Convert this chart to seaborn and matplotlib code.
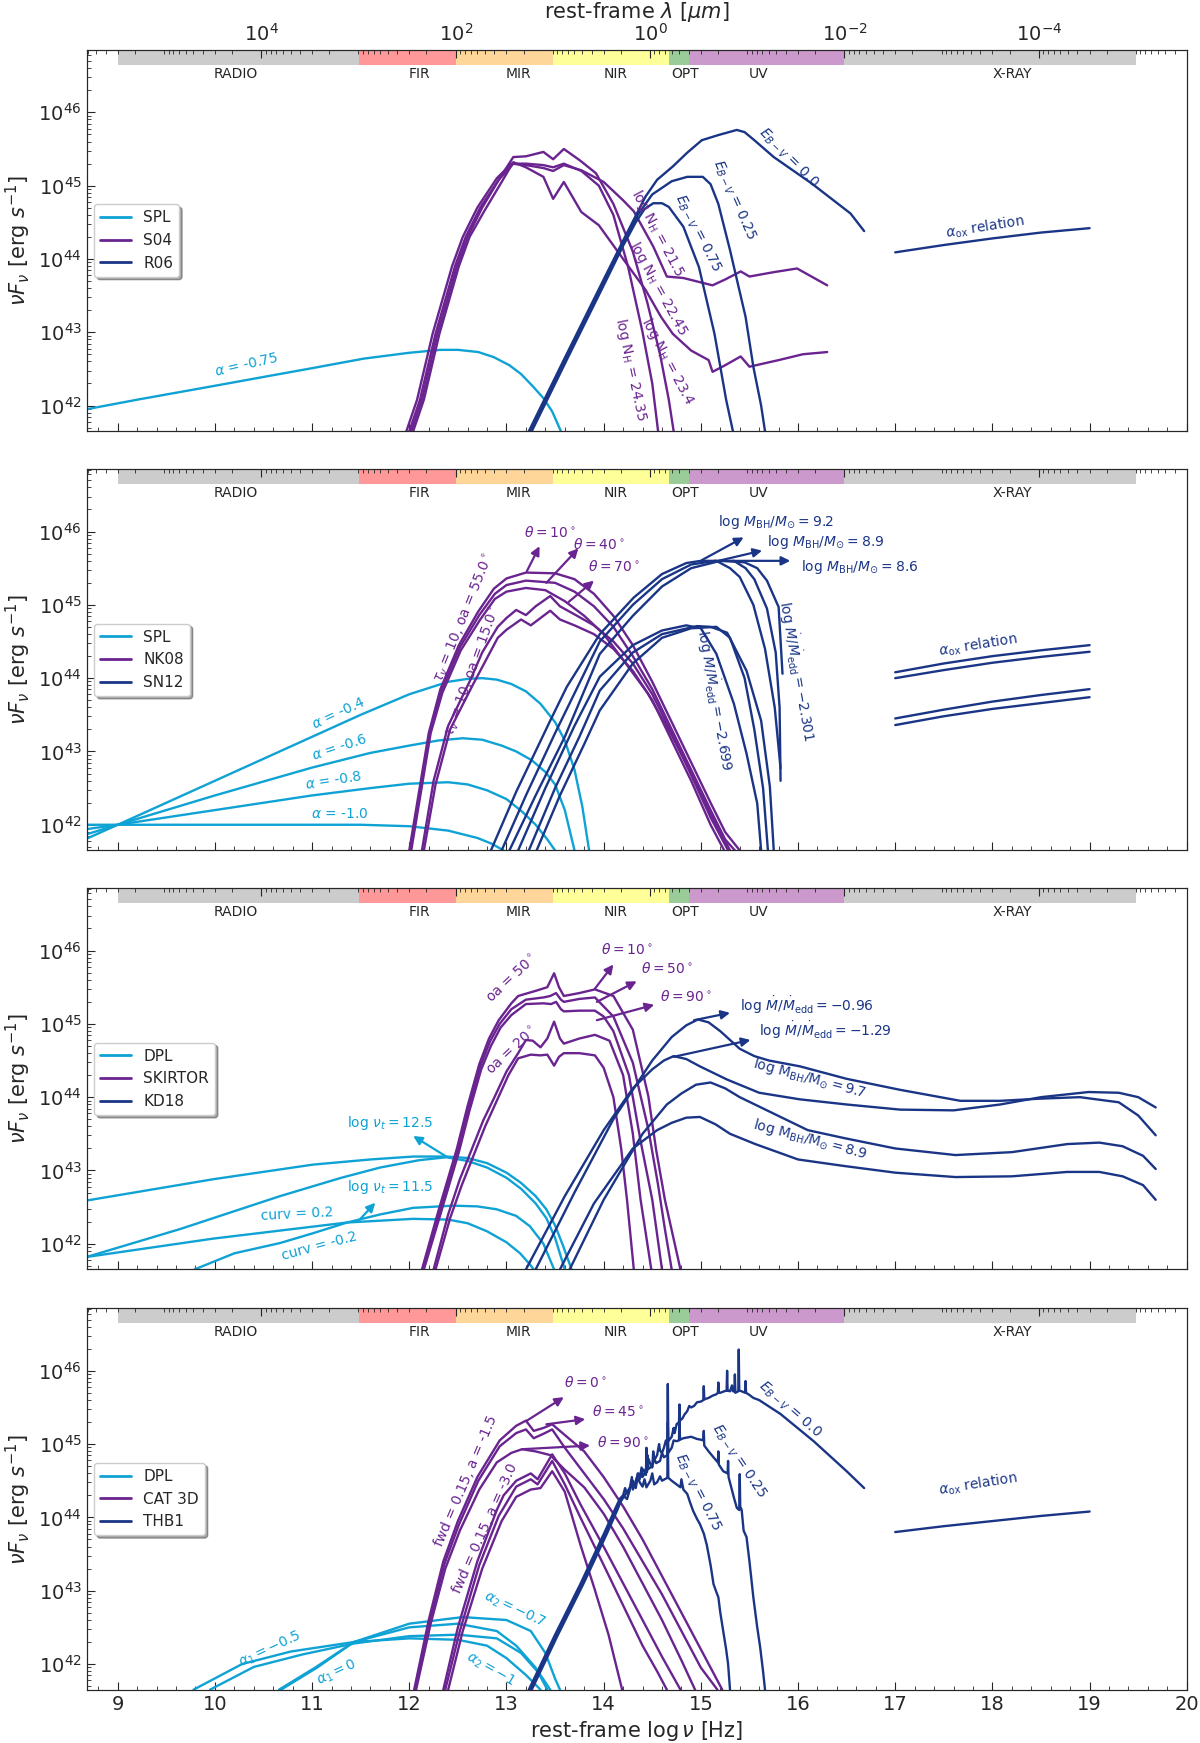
import numpy as np
import pandas as pd
import matplotlib
matplotlib.use('Agg')
import matplotlib.pyplot as plt
import seaborn as sns
from matplotlib.lines import Line2D
from matplotlib.ticker import (MultipleLocator, FixedLocator, FixedFormatter,
                               LogLocator, NullFormatter)

sns.set_style('ticks')
plt.rcParams['font.family'] = ['DejaVu Sans']

CYAN = '#0fa2d4'
PURPLE = '#6a2490'
NAVY = '#1a3586'
LOGC = 14.4768          # log10(c) in micron/s
XLIM = (8.68, 20.0)
YLIM = (41.65, 46.85)   # log of nuFnu

# spectral regions (log nu edges)
band_edges = [9.0, 11.48, 12.477, 13.477, 14.67, 14.875, 16.477, 19.477]
band_names = ['RADIO', 'FIR', 'MIR', 'NIR', 'OPT', 'UV', 'X-RAY']
band_label_x = [10.21, 12.1, 13.12, 14.12, 14.84, 15.59, 18.2]
band_colors = ['#cccccc', '#ff9999', '#ffd699', '#ffff99', '#99cc99', '#cc99cc', '#cccccc']

# ---------------- panel 1 : SPL / S04 / R06 ----------------
spl_075 = [(8.68, 41.95), (9.2, 42.08), (10.0, 42.27), (10.54, 42.4), (11.0, 42.51), (11.53, 42.64),
           (12.0, 42.72), (12.32, 42.76), (12.5, 42.76), (12.71, 42.73), (12.87, 42.66), (13.03, 42.55),
           (13.15, 42.43), (13.28, 42.25), (13.38, 42.1), (13.47, 41.92), (13.56, 41.65)]
s04_nh215 = [(11.97, 41.65), (12.08, 42.08), (12.24, 42.98), (12.44, 43.9), (12.55, 44.3), (12.7, 44.7),
             (12.9, 45.1), (13.05, 45.3), (13.2, 45.28), (13.38, 45.24), (13.48, 45.2), (13.59, 45.28),
             (13.77, 45.21), (14.0, 45.05), (14.2, 44.8), (14.31, 44.65), (14.51, 44.17), (14.65, 43.76),
             (14.82, 43.74), (15.0, 43.68), (15.12, 43.64), (15.25, 43.72), (15.41, 43.83), (15.5, 43.76),
             (15.75, 43.82), (15.99, 43.87), (16.3, 43.64)]
s04_nh2245 = [(12.04, 41.65), (12.15, 42.08), (12.31, 42.98), (12.51, 43.9), (12.62, 44.3), (12.77, 44.65),
              (12.95, 45.05), (13.07, 45.32), (13.2, 45.25), (13.38, 45.12), (13.48, 44.82), (13.59, 45.05),
              (13.77, 44.64), (13.95, 44.46), (14.2, 44.0), (14.43, 43.58), (14.59, 43.21), (14.71, 42.98),
              (14.9, 42.75), (15.08, 42.62), (15.12, 42.46), (15.25, 42.55), (15.41, 42.67), (15.5, 42.53),
              (15.8, 42.62), (16.05, 42.7), (16.3, 42.73)]
s04_nh234 = [(12.02, 41.65), (12.13, 42.08), (12.29, 42.98), (12.49, 43.9), (12.6, 44.3), (12.75, 44.7),
             (12.93, 45.1), (13.07, 45.39), (13.2, 45.4), (13.38, 45.46), (13.48, 45.36), (13.59, 45.5),
             (13.75, 45.35), (13.92, 45.17), (14.1, 44.75), (14.3, 44.1), (14.45, 43.4), (14.58, 42.7),
             (14.67, 42.08), (14.72, 41.65)]
s04_nh2435 = [(12.0, 41.65), (12.11, 42.08), (12.27, 42.98), (12.47, 43.9), (12.58, 44.3), (12.73, 44.7),
              (12.92, 45.08), (13.07, 45.3), (13.2, 45.3), (13.38, 45.28), (13.48, 45.25), (13.59, 45.3),
              (13.77, 45.2), (13.95, 45.0), (14.1, 44.6), (14.25, 43.9), (14.4, 43.0), (14.5, 42.3),
              (14.56, 41.65)]
r06_e00 = [(13.23, 41.65), (13.6, 42.65), (14.0, 43.72), (14.2, 44.25), (14.43, 44.85), (14.55, 45.08),
           (14.71, 45.26), (14.86, 45.45), (15.01, 45.62), (15.18, 45.69), (15.37, 45.76), (15.45, 45.73),
           (15.55, 45.62), (15.75, 45.39), (16.14, 45.03), (16.54, 44.62), (16.68, 44.38)]
r06_e025 = [(13.245, 41.65), (13.615, 42.65), (14.015, 43.72), (14.215, 44.25), (14.35, 44.6), (14.5, 44.88),
            (14.7, 45.06), (14.86, 45.12), (15.02, 45.12), (15.1, 45.02), (15.18, 44.75), (15.3, 44.12),
            (15.46, 43.21), (15.54, 42.53), (15.62, 42.0), (15.66, 41.65)]
r06_e075 = [(13.26, 41.65), (13.63, 42.65), (14.03, 43.72), (14.2, 44.18), (14.33, 44.5), (14.42, 44.68),
            (14.51, 44.76), (14.6, 44.76), (14.67, 44.71), (14.82, 44.44), (14.98, 43.89), (15.14, 42.98),
            (15.26, 42.08), (15.33, 41.65)]
aox_1 = [(17.0, 44.09), (17.5, 44.19), (18.0, 44.28), (18.5, 44.36), (19.0, 44.42)]

# ---------------- panel 2 : SPL / NK08 / SN12 ----------------
spl_04 = [(8.68, 41.81), (9.0, 42.0), (10.0, 42.6), (11.0, 43.2), (11.5, 43.5), (12.0, 43.78), (12.4, 43.95),
          (12.6, 43.99), (12.75, 44.0), (12.9, 43.98), (13.05, 43.92), (13.2, 43.82), (13.35, 43.65),
          (13.5, 43.4), (13.6, 43.15), (13.7, 42.75), (13.78, 42.25), (13.85, 41.65)]
spl_06 = [(8.68, 41.87), (9.0, 42.0), (10.0, 42.4), (11.0, 42.78), (11.6, 42.98), (12.0, 43.08), (12.3, 43.15),
          (12.55, 43.18), (12.75, 43.16), (12.95, 43.08), (13.1, 43.0), (13.26, 42.88), (13.4, 42.72),
          (13.5, 42.55), (13.6, 42.2), (13.7, 41.65)]
spl_08 = [(8.68, 41.94), (9.0, 42.0), (10.0, 42.2), (11.0, 42.4), (11.6, 42.5), (12.0, 42.56), (12.4, 42.58),
          (12.6, 42.55), (12.8, 42.47), (13.0, 42.35), (13.16, 42.18), (13.3, 42.0), (13.42, 41.8), (13.5, 41.65)]
spl_10 = [(8.68, 42.0), (9.0, 42.0), (10.0, 42.0), (11.0, 42.0), (11.5, 42.0), (12.0, 41.98), (12.4, 41.92),
          (12.7, 41.82), (12.85, 41.74), (12.97, 41.65)]
nk_oa55_t10 = [(12.0, 41.65), (12.1, 42.45), (12.2, 43.25), (12.32, 43.85), (12.51, 44.45), (12.71, 44.91),
               (12.87, 45.22), (13.0, 45.36), (13.2, 45.44), (13.5, 45.43), (13.7, 45.35), (13.9, 45.15),
               (14.1, 44.85), (14.3, 44.45), (14.5, 43.95), (14.7, 43.4), (14.9, 42.85), (15.1, 42.3),
               (15.25, 41.9), (15.4, 41.65)]
nk_oa55_t40 = [(12.01, 41.65), (12.11, 42.45), (12.21, 43.25), (12.33, 43.83), (12.52, 44.42), (12.72, 44.86),
               (12.88, 45.15), (13.0, 45.27), (13.2, 45.33), (13.5, 45.3), (13.7, 45.18), (13.9, 44.98),
               (14.1, 44.7), (14.3, 44.3), (14.5, 43.85), (14.7, 43.3), (14.9, 42.75), (15.1, 42.2),
               (15.25, 41.8), (15.35, 41.65)]
nk_oa55_t70 = [(12.02, 41.65), (12.12, 42.45), (12.22, 43.25), (12.34, 43.8), (12.53, 44.38), (12.73, 44.8),
               (12.88, 45.08), (13.0, 45.18), (13.2, 45.23), (13.4, 45.2), (13.6, 45.05), (13.8, 44.85),
               (14.0, 44.6), (14.2, 44.25), (14.45, 43.8), (14.7, 43.22), (14.9, 42.7), (15.1, 42.15),
               (15.3, 41.65)]
nk_oa15_a = [(12.13, 41.65), (12.25, 42.6), (12.4, 43.35), (12.63, 43.98), (12.75, 44.35), (12.91, 44.7),
             (13.0, 44.82), (13.1, 44.93), (13.2, 44.86), (13.3, 44.98), (13.45, 45.12), (13.55, 44.98),
             (13.7, 44.87), (13.9, 44.72), (14.1, 44.5), (14.3, 44.2), (14.5, 43.78), (14.7, 43.25),
             (14.9, 42.68), (15.1, 42.1), (15.28, 41.65)]
nk_oa15_b = [(12.15, 41.65), (12.27, 42.55), (12.42, 43.3), (12.65, 43.9), (12.77, 44.2), (12.91, 44.55),
             (13.0, 44.66), (13.15, 44.8), (13.25, 44.72), (13.45, 44.92), (13.55, 44.8), (13.7, 44.72),
             (13.9, 44.6), (14.1, 44.4), (14.3, 44.1), (14.5, 43.7), (14.7, 43.15), (14.9, 42.6),
             (15.1, 42.0), (15.24, 41.65)]
sn_m92 = [(12.84, 41.65), (13.1, 42.45), (13.45, 43.42), (13.62, 43.88), (13.96, 44.6), (14.31, 45.1),
          (14.6, 45.42), (14.85, 45.57), (15.0, 45.6), (15.16, 45.6), (15.3, 45.5), (15.4, 45.38),
          (15.54, 45.0), (15.66, 44.4), (15.76, 43.6), (15.82, 42.77)]
sn_m89 = [(12.95, 41.65), (13.2, 42.4), (13.5, 43.25), (13.96, 44.5), (14.3, 45.0), (14.6, 45.35),
          (14.9, 45.55), (15.15, 45.6), (15.34, 45.6), (15.46, 45.5), (15.55, 45.35), (15.68, 44.95),
          (15.77, 44.35), (15.81, 43.6), (15.82, 42.6)]
sn_m86 = [(13.03, 41.65), (13.3, 42.4), (13.6, 43.2), (13.96, 44.33), (14.3, 44.85), (14.6, 45.25),
          (14.9, 45.5), (15.2, 45.6), (15.45, 45.58), (15.58, 45.5), (15.68, 45.33), (15.8, 44.97),
          (15.84, 44.06)]
sn_low1 = [(13.12, 41.65), (13.4, 42.5), (13.7, 43.35), (13.96, 44.02), (14.3, 44.45), (14.6, 44.65),
           (14.85, 44.72), (15.0, 44.68), (15.16, 44.33), (15.34, 43.65), (15.47, 42.97), (15.58, 42.29),
           (15.62, 41.65)]
sn_low2 = [(13.23, 41.65), (13.5, 42.5), (13.75, 43.2), (13.96, 43.83), (14.3, 44.35), (14.6, 44.6),
           (14.96, 44.71), (15.1, 44.7), (15.27, 44.62), (15.47, 44.1), (15.62, 43.42), (15.71, 42.52),
           (15.75, 41.65)]
sn_low3 = [(13.31, 41.65), (13.55, 42.4), (13.8, 43.1), (13.96, 43.56), (14.3, 44.2), (14.6, 44.55),
           (14.9, 44.68), (15.16, 44.7), (15.3, 44.55), (15.45, 44.0), (15.55, 43.3), (15.64, 42.5),
           (15.69, 41.65)]
aox_2a = [(17.0, 44.08), (17.5, 44.2), (18.0, 44.3), (18.5, 44.38), (19.0, 44.45)]
aox_2b = [(17.0, 44.0), (17.5, 44.11), (18.0, 44.21), (18.5, 44.29), (19.0, 44.36)]
aox_2c = [(17.0, 43.45), (17.5, 43.57), (18.0, 43.68), (18.5, 43.77), (19.0, 43.85)]
aox_2d = [(17.0, 43.36), (17.5, 43.48), (18.0, 43.58), (18.5, 43.66), (19.0, 43.74)]

# ---------------- panel 3 : DPL / SKIRTOR / KD18 ----------------
dpl_nt125_a = [(8.68, 42.59), (9.98, 42.88), (11.01, 43.08), (11.6, 43.15), (12.04, 43.19), (12.38, 43.19),
               (12.6, 43.17), (12.8, 43.1), (13.0, 42.97), (13.15, 42.83), (13.3, 42.65), (13.41, 42.47),
               (13.5, 42.25), (13.58, 41.98), (13.67, 41.65)]
dpl_nt125_b = [(8.68, 41.82), (9.64, 42.2), (10.67, 42.65), (11.3, 42.9), (11.7, 43.04), (12.1, 43.14),
               (12.38, 43.18), (12.6, 43.13), (12.8, 43.04), (13.0, 42.9), (13.15, 42.75), (13.3, 42.55),
               (13.41, 42.35), (13.5, 42.08), (13.6, 41.65)]
dpl_nt115_a = [(8.68, 41.82), (9.98, 42.07), (11.36, 42.29), (12.04, 42.34), (12.4, 42.33), (12.6, 42.28),
               (12.8, 42.17), (13.0, 42.02), (13.14, 41.87), (13.24, 41.72), (13.28, 41.65)]
dpl_nt115_b = [(9.79, 41.65), (10.2, 41.87), (10.67, 42.01), (11.0, 42.14), (11.36, 42.29), (11.7, 42.4),
               (12.04, 42.49), (12.45, 42.52), (12.7, 42.51), (12.9, 42.47), (13.1, 42.38), (13.24, 42.24),
               (13.38, 42.0), (13.49, 41.65)]
sk_oa50_t10 = [(12.13, 41.65), (12.3, 42.45), (12.49, 43.3), (12.6, 43.88), (12.72, 44.45), (12.82, 44.8),
               (12.92, 45.05), (13.05, 45.28), (13.12, 45.38), (13.3, 45.45), (13.42, 45.5), (13.49, 45.69),
               (13.54, 45.5), (13.59, 45.38), (13.75, 45.42), (13.91, 45.47), (14.1, 45.38), (14.3, 44.92),
               (14.46, 44.01), (14.54, 43.28), (14.63, 42.6), (14.79, 41.65)]
sk_oa50_t50 = [(12.14, 41.65), (12.31, 42.43), (12.5, 43.28), (12.61, 43.85), (12.73, 44.42), (12.83, 44.76),
               (12.93, 45.0), (13.05, 45.2), (13.2, 45.33), (13.38, 45.36), (13.45, 45.38), (13.51, 45.42),
               (13.56, 45.33), (13.59, 45.3), (13.75, 45.34), (13.91, 45.36), (14.1, 45.1), (14.3, 44.47),
               (14.46, 43.56), (14.56, 42.8), (14.63, 42.2), (14.7, 41.65)]
sk_oa50_t90 = [(12.15, 41.65), (12.32, 42.4), (12.51, 43.25), (12.62, 43.82), (12.74, 44.38), (12.84, 44.7),
               (12.94, 44.95), (13.05, 45.12), (13.2, 45.27), (13.38, 45.28), (13.46, 45.27), (13.51, 45.3),
               (13.56, 45.2), (13.59, 45.17), (13.75, 45.18), (13.91, 45.18), (14.0, 45.1), (14.1, 44.9),
               (14.26, 44.3), (14.38, 43.4), (14.5, 42.6), (14.6, 41.65)]
sk_oa20_a = [(12.25, 41.65), (12.4, 42.4), (12.52, 42.88), (12.64, 43.28), (12.76, 43.68), (12.88, 44.01),
             (13.0, 44.35), (13.12, 44.6), (13.2, 44.78), (13.27, 44.77), (13.35, 44.68), (13.42, 44.8),
             (13.49, 45.03), (13.55, 44.8), (13.59, 44.73), (13.75, 44.8), (13.91, 44.85), (14.06, 44.77),
             (14.2, 44.3), (14.3, 43.5), (14.38, 42.6), (14.49, 41.65)]
sk_oa20_b = [(12.27, 41.65), (12.42, 42.35), (12.54, 42.8), (12.66, 43.2), (12.78, 43.6), (12.9, 43.95),
             (13.02, 44.3), (13.12, 44.53), (13.25, 44.58), (13.35, 44.57), (13.42, 44.58), (13.49, 44.43),
             (13.54, 44.55), (13.59, 44.6), (13.75, 44.6), (13.91, 44.57), (14.0, 44.4), (14.1, 44.0),
             (14.18, 43.3), (14.24, 42.6), (14.31, 41.65)]
kd_1 = [(13.3, 41.65), (13.7, 42.7), (14.1, 43.7), (14.5, 44.5), (14.7, 44.82), (14.85, 44.98), (14.97, 45.06),
        (15.08, 45.02), (15.2, 44.9), (15.3, 44.78), (15.4, 44.66), (15.55, 44.56), (15.7, 44.5),
        (16.02, 44.42), (16.5, 44.25), (17.05, 44.1), (17.67, 43.95), (18.08, 43.95), (18.5, 43.98),
        (18.9, 44.0), (19.3, 43.93), (19.5, 43.75), (19.68, 43.48)]
kd_2 = [(13.2, 41.65), (13.6, 42.65), (14.0, 43.55), (14.3, 44.12), (14.5, 44.38), (14.62, 44.5),
        (14.72, 44.56), (14.85, 44.52), (14.99, 44.42), (15.27, 44.24), (15.6, 44.06), (16.02, 43.97),
        (16.5, 43.9), (17.05, 43.83), (17.6, 43.82), (18.08, 43.9), (18.5, 44.0), (18.99, 44.07),
        (19.3, 44.06), (19.5, 44.0), (19.68, 43.86)]
kd_3 = [(13.65, 41.65), (14.0, 42.6), (14.4, 43.5), (14.65, 43.9), (14.8, 44.05), (14.95, 44.17), (15.1, 44.2),
        (15.25, 44.12), (15.4, 44.0), (15.68, 43.82), (16.1, 43.55), (16.48, 43.44), (17.0, 43.3),
        (17.62, 43.21), (18.2, 43.25), (18.77, 43.36), (19.1, 43.38), (19.34, 43.33), (19.55, 43.2),
        (19.68, 43.02)]
kd_4 = [(13.55, 41.65), (13.9, 42.55), (14.3, 43.3), (14.55, 43.55), (14.7, 43.65), (14.85, 43.72),
        (14.99, 43.73), (15.15, 43.63), (15.3, 43.5), (15.56, 43.36), (16.0, 43.15), (16.48, 43.06),
        (17.0, 42.97), (17.62, 42.91), (18.2, 42.92), (18.77, 42.98), (19.1, 42.98), (19.34, 42.92),
        (19.55, 42.8), (19.68, 42.6)]

# ---------------- panel 4 : DPL / CAT 3D / THB1 ----------------
dpl_a1m05_a2m1 = [(9.78, 41.65), (10.28, 42.0), (10.78, 42.17), (11.43, 42.3), (12.0, 42.35), (12.5, 42.33),
                  (12.8, 42.25), (13.0, 42.08), (13.2, 41.85), (13.35, 41.65)]
dpl_a1m05_a2m07 = [(9.95, 41.65), (10.4, 41.96), (10.9, 42.13), (11.43, 42.28), (12.0, 42.38), (12.5, 42.4),
                   (12.9, 42.35), (13.15, 42.15), (13.35, 41.85), (13.45, 41.65)]
dpl_a10_a2m1 = [(10.66, 41.65), (11.03, 41.95), (11.43, 42.3), (12.0, 42.5), (12.5, 42.55), (12.9, 42.45),
                (13.1, 42.25), (13.3, 41.95), (13.42, 41.65)]
dpl_a10_a2m07 = [(10.68, 41.65), (11.05, 41.95), (11.43, 42.3), (12.0, 42.55), (12.55, 42.64), (13.0, 42.6),
                 (13.25, 42.45), (13.4, 42.15), (13.5, 41.8), (13.55, 41.65)]
cat_a15_t0 = [(12.05, 41.65), (12.2, 42.6), (12.35, 43.4), (12.5, 43.95), (12.7, 44.55), (12.93, 45.05),
              (13.1, 45.25), (13.2, 45.32), (13.28, 45.18), (13.38, 45.22), (13.47, 45.27), (13.63, 45.09),
              (13.8, 44.9), (14.0, 44.55), (14.2, 44.15), (14.4, 43.7), (14.6, 43.2), (14.8, 42.7),
              (15.0, 42.2), (15.12, 41.9), (15.22, 41.65)]
cat_a15_t45 = [(12.06, 41.65), (12.21, 42.58), (12.36, 43.36), (12.51, 43.9), (12.71, 44.5), (12.93, 44.97),
               (13.1, 45.15), (13.2, 45.2), (13.28, 45.08), (13.38, 45.14), (13.47, 45.2), (13.6, 44.95),
               (13.8, 44.6), (14.0, 44.25), (14.2, 43.85), (14.4, 43.4), (14.6, 42.95), (14.8, 42.45),
               (15.0, 41.95), (15.17, 41.65)]
cat_a15_t90 = [(12.07, 41.65), (12.22, 42.55), (12.37, 43.3), (12.52, 43.82), (12.72, 44.38), (12.9, 44.75),
               (13.05, 44.88), (13.16, 44.93), (13.3, 44.9), (13.45, 44.85), (13.6, 44.65), (13.8, 44.41),
               (14.0, 44.05), (14.2, 43.6), (14.4, 43.1), (14.6, 42.6), (14.8, 42.05), (14.94, 41.65)]
cat_a30_t0 = [(12.35, 41.65), (12.5, 42.5), (12.7, 43.4), (12.9, 44.1), (12.97, 44.3), (13.1, 44.5),
              (13.25, 44.6), (13.32, 44.52), (13.47, 44.86), (13.6, 44.6), (13.76, 44.18), (14.0, 43.6),
              (14.2, 43.1), (14.4, 42.6), (14.6, 42.1), (14.79, 41.65)]
cat_a30_t45 = [(12.37, 41.65), (12.52, 42.45), (12.72, 43.35), (12.92, 44.02), (13.1, 44.42), (13.25, 44.52),
               (13.32, 44.45), (13.47, 44.77), (13.6, 44.45), (13.76, 44.0), (14.0, 43.35), (14.2, 42.8),
               (14.4, 42.25), (14.55, 41.9), (14.65, 41.65)]
cat_a30_t90 = [(12.4, 41.65), (12.55, 42.45), (12.75, 43.3), (12.95, 43.95), (13.1, 44.28), (13.25, 44.38),
               (13.35, 44.4), (13.47, 44.63), (13.6, 44.35), (13.76, 43.63), (13.9, 43.05), (14.05, 42.4),
               (14.19, 41.65)]
thb_e00 = [(13.23, 41.65), (13.5, 42.4), (13.76, 43.09), (14.0, 43.77), (14.14, 44.18), (14.17, 44.26),
           (14.2, 44.3), (14.22, 44.4), (14.24, 44.33), (14.27, 44.41), (14.29, 44.55), (14.3, 44.38),
           (14.33, 44.47), (14.35, 44.6), (14.37, 44.52), (14.39, 44.68), (14.4, 44.55), (14.42, 44.6),
           (14.435, 44.58), (14.44, 44.95), (14.445, 44.62), (14.46, 44.8), (14.48, 44.73), (14.5, 44.68),
           (14.51, 44.9), (14.52, 44.78), (14.55, 44.85), (14.57, 45.0), (14.58, 44.91), (14.6, 44.88),
           (14.62, 44.95), (14.64, 45.05), (14.655, 45.0), (14.66, 45.82), (14.665, 45.04), (14.7, 45.1),
           (14.72, 45.22), (14.73, 45.15), (14.75, 45.27), (14.775, 45.3), (14.78, 45.54), (14.785, 45.32),
           (14.81, 45.35), (14.83, 45.4), (14.86, 45.45), (14.88, 45.52), (14.9, 45.5), (14.93, 45.52),
           (14.96, 45.57), (15.0, 45.58), (15.025, 45.6), (15.03, 45.79), (15.035, 45.61), (15.08, 45.63),
           (15.12, 45.66), (15.16, 45.68), (15.175, 45.7), (15.18, 45.84), (15.185, 45.7), (15.2, 45.7),
           (15.24, 45.72), (15.265, 45.73), (15.27, 46.0), (15.275, 45.73), (15.3, 45.72), (15.32, 45.8),
           (15.33, 45.72), (15.345, 45.72), (15.35, 45.95), (15.355, 45.7), (15.37, 45.71), (15.385, 45.72),
           (15.39, 46.29), (15.395, 45.73), (15.42, 45.72), (15.455, 45.7), (15.46, 45.86), (15.465, 45.7),
           (15.5, 45.67), (15.54, 45.63), (15.6, 45.6), (15.82, 45.41), (16.16, 45.04), (16.5, 44.63),
           (16.68, 44.4)]
thb_e025 = [(13.245, 41.65), (13.515, 42.4), (13.775, 43.09), (14.015, 43.77), (14.155, 44.18), (14.27, 44.4),
            (14.3, 44.46), (14.32, 44.42), (14.33, 44.5), (14.36, 44.6), (14.38, 44.55), (14.4, 44.66),
            (14.42, 44.62), (14.44, 44.68), (14.45, 44.85), (14.46, 44.66), (14.5, 44.7), (14.52, 44.8),
            (14.54, 44.74), (14.58, 44.77), (14.6, 44.88), (14.62, 44.82), (14.655, 44.85), (14.66, 45.3),
            (14.665, 44.88), (14.7, 44.95), (14.72, 45.05), (14.75, 45.04), (14.775, 45.05), (14.78, 45.45),
            (14.785, 45.06), (14.82, 45.08), (14.86, 45.09), (14.9, 45.1), (14.96, 45.07), (15.0, 45.06),
            (15.025, 45.05), (15.03, 45.18), (15.035, 44.98), (15.08, 44.9), (15.13, 44.82), (15.175, 44.75),
            (15.18, 44.9), (15.185, 44.72), (15.23, 44.63), (15.275, 44.6), (15.28, 44.77), (15.285, 44.55),
            (15.34, 44.27), (15.37, 44.13), (15.395, 44.1), (15.4, 44.59), (15.405, 44.15), (15.42, 44.1),
            (15.44, 43.82), (15.47, 43.73), (15.5, 43.4), (15.54, 42.91), (15.58, 42.5), (15.61, 42.23),
            (15.64, 41.9), (15.66, 41.65)]
thb_e075 = [(13.26, 41.65), (13.53, 42.4), (13.79, 43.09), (14.03, 43.77), (14.14, 44.1), (14.2, 44.3),
            (14.24, 44.25), (14.27, 44.38), (14.3, 44.5), (14.33, 44.4), (14.35, 44.55), (14.37, 44.48),
            (14.4, 44.42), (14.42, 44.52), (14.44, 44.41), (14.48, 44.5), (14.5, 44.6), (14.52, 44.45),
            (14.55, 44.48), (14.58, 44.56), (14.6, 44.5), (14.655, 44.54), (14.66, 45.05), (14.665, 44.54),
            (14.7, 44.5), (14.75, 44.45), (14.79, 44.41), (14.8, 44.52), (14.82, 44.38), (14.86, 44.32),
            (14.89, 44.2), (14.92, 44.09), (14.96, 43.98), (14.99, 43.91), (15.03, 43.78), (15.06, 43.63),
            (15.1, 43.35), (15.13, 43.09), (15.16, 42.98), (15.18, 42.91), (15.2, 42.7), (15.23, 42.45),
            (15.26, 42.2), (15.28, 42.0), (15.3, 41.65)]
aox_4 = [(17.0, 43.8), (17.5, 43.88), (18.0, 43.95), (18.5, 44.02), (19.0, 44.08)]

# ---------------- text labels ----------------
deg = r'$^\circ$'
lbl_edd = r'$\log\,\dot{M}/\dot{M}_{\rm edd} = %s$'
lbl_mbh = r'$\log\,M_{\rm BH}/M_{\odot} = %s$'
lbl_mbh_rm = r'$\log\,{\rm M_{BH}/M_{\odot}} = %s$'
lbl_ebv = r'$E_{B-V}$ = %s'
lbl_nh = r'log N$_{\rm H}$ = %s'
lbl_aox = r'$\alpha_{\rm ox}$ relation'

panels = [
    dict(order=['SPL', 'S04', 'R06'],
         curves=[('SPL', spl_075), ('S04', s04_nh215), ('S04', s04_nh2245), ('S04', s04_nh234),
                 ('S04', s04_nh2435), ('R06', r06_e00), ('R06', r06_e025), ('R06', r06_e075),
                 ('R06', aox_1)],
         texts=[(10.32, 42.55, r'$\alpha$ = -0.75', 13, CYAN),
                (15.9, 45.38, lbl_ebv % '0.0', -45, NAVY),
                (15.34, 44.8, lbl_ebv % '0.25', -66, NAVY),
                (14.97, 44.35, lbl_ebv % '0.75', -63, NAVY),
                (14.55, 44.35, lbl_nh % '21.5', -62, PURPLE),
                (14.56, 43.6, lbl_nh % '22.45', -61, PURPLE),
                (14.66, 42.6, lbl_nh % '23.4', -62, PURPLE),
                (14.28, 42.5, lbl_nh % '24.35', -78, PURPLE),
                (17.92, 44.43, lbl_aox, 9, NAVY)],
         arrows=[]),
    dict(order=['SPL', 'NK08', 'SN12'],
         curves=[('SPL', spl_04), ('SPL', spl_06), ('SPL', spl_08), ('SPL', spl_10),
                 ('NK08', nk_oa55_t10), ('NK08', nk_oa55_t40), ('NK08', nk_oa55_t70),
                 ('NK08', nk_oa15_a), ('NK08', nk_oa15_b),
                 ('SN12', sn_m92), ('SN12', sn_m89), ('SN12', sn_m86),
                 ('SN12', sn_low1), ('SN12', sn_low2), ('SN12', sn_low3),
                 ('SN12', aox_2a), ('SN12', aox_2b), ('SN12', aox_2c), ('SN12', aox_2d)],
         texts=[(11.27, 43.52, r'$\alpha$ = -0.4', 25, CYAN),
                (11.28, 43.06, r'$\alpha$ = -0.6', 18, CYAN),
                (11.22, 42.6, r'$\alpha$ = -0.8', 9, CYAN),
                (11.28, 42.14, r'$\alpha$ = -1.0', 0, CYAN),
                (12.56, 44.83, r'$\tau_v$ = 10, oa = 55.0' + deg, 68, PURPLE),
                (12.65, 44.1, r'$\tau_v$ = 10, oa = 15.0' + deg, 70, PURPLE),
                (13.45, 45.99, r'$\theta = 10^\circ$', 0, PURPLE),
                (13.95, 45.82, r'$\theta = 40^\circ$', 0, PURPLE),
                (14.1, 45.52, r'$\theta = 70^\circ$', 0, PURPLE),
                (15.77, 46.13, lbl_mbh % '9.2', 0, NAVY),
                (16.28, 45.86, lbl_mbh % '8.9', 0, NAVY),
                (16.63, 45.52, lbl_mbh % '8.6', 0, NAVY),
                (15.99, 44.1, lbl_edd % '-2.301', -80, NAVY),
                (15.15, 43.7, lbl_edd % '-2.699', -80, NAVY),
                (17.85, 44.45, lbl_aox, 9, NAVY)],
         arrows=[((13.21, 45.46), (13.34, 45.8), PURPLE),
                 ((13.41, 45.3), (13.74, 45.77), PURPLE),
                 ((13.64, 45.04), (13.9, 45.33), PURPLE),
                 ((15.01, 45.61), (15.44, 45.92), NAVY),
                 ((15.18, 45.6), (15.63, 45.74), NAVY),
                 ((15.33, 45.6), (15.92, 45.6), NAVY)]),
    dict(order=['DPL', 'SKIRTOR', 'KD18'],
         curves=[('DPL', dpl_nt125_a), ('DPL', dpl_nt125_b), ('DPL', dpl_nt115_a), ('DPL', dpl_nt115_b),
                 ('SKIRTOR', sk_oa50_t10), ('SKIRTOR', sk_oa50_t50), ('SKIRTOR', sk_oa50_t90),
                 ('SKIRTOR', sk_oa20_a), ('SKIRTOR', sk_oa20_b),
                 ('KD18', kd_1), ('KD18', kd_2), ('KD18', kd_3), ('KD18', kd_4)],
         texts=[(11.8, 43.65, r'$\log\,\nu_t = 12.5$', 0, CYAN),
                (11.8, 42.77, r'$\log\,\nu_t = 11.5$', 0, CYAN),
                (10.84, 42.4, 'curv = 0.2', 3, CYAN),
                (11.08, 41.97, 'curv = -0.2', 15, CYAN),
                (13.06, 45.61, 'oa = 50' + deg, 43, PURPLE),
                (13.06, 44.63, 'oa = 20' + deg, 43, PURPLE),
                (14.24, 46.02, r'$\theta = 10^\circ$', 0, PURPLE),
                (14.65, 45.76, r'$\theta = 50^\circ$', 0, PURPLE),
                (14.85, 45.37, r'$\theta = 90^\circ$', 0, PURPLE),
                (16.09, 45.25, lbl_edd % '-0.96', 0, NAVY),
                (16.28, 44.92, lbl_edd % '-1.29', 0, NAVY),
                (16.12, 44.25, lbl_mbh_rm % '9.7', -15, NAVY),
                (16.12, 43.42, lbl_mbh_rm % '8.9', -15, NAVY)],
         arrows=[((12.38, 43.19), (12.04, 43.47), CYAN),
                 ((11.49, 42.33), (11.65, 42.56), CYAN),
                 ((13.91, 45.48), (14.1, 45.81), PURPLE),
                 ((13.93, 45.3), (14.34, 45.58), PURPLE),
                 ((13.93, 45.05), (14.52, 45.26), PURPLE),
                 ((14.93, 45.05), (15.3, 45.15), NAVY),
                 ((14.72, 44.55), (15.51, 44.78), NAVY)]),
    dict(order=['DPL', 'CAT 3D', 'THB1'],
         curves=[('DPL', dpl_a1m05_a2m1), ('DPL', dpl_a1m05_a2m07), ('DPL', dpl_a10_a2m1),
                 ('DPL', dpl_a10_a2m07),
                 ('CAT 3D', cat_a15_t0), ('CAT 3D', cat_a15_t45), ('CAT 3D', cat_a15_t90),
                 ('CAT 3D', cat_a30_t0), ('CAT 3D', cat_a30_t45), ('CAT 3D', cat_a30_t90),
                 ('THB1', thb_e00), ('THB1', thb_e025), ('THB1', thb_e075), ('THB1', aox_4)],
         texts=[(10.57, 42.2, r'$\alpha_1 = -0.5$', 25, CYAN),
                (11.25, 41.88, r'$\alpha_1 = 0$', 25, CYAN),
                (13.08, 42.74, r'$\alpha_2 = -0.7$', -25, CYAN),
                (12.84, 41.93, r'$\alpha_2 = -1$', -30, CYAN),
                (12.58, 44.5, 'fwd = 0.15, a = -1.5', 67, PURPLE),
                (12.78, 43.85, 'fwd = 0.15, a = -3.0', 66, PURPLE),
                (13.81, 45.84, r'$\theta = 0^\circ$', 0, PURPLE),
                (14.15, 45.45, r'$\theta = 45^\circ$', 0, PURPLE),
                (14.2, 45.02, r'$\theta = 90^\circ$', 0, PURPLE),
                (15.91, 45.48, lbl_ebv % '0.0', -41, NAVY),
                (15.39, 44.77, lbl_ebv % '0.25', -56, NAVY),
                (14.97, 44.34, lbl_ebv % '0.75', -63, NAVY),
                (17.85, 44.45, lbl_aox, 9, NAVY)],
         arrows=[((13.21, 45.32), (13.59, 45.64), PURPLE),
                 ((13.41, 45.27), (13.81, 45.34), PURPLE),
                 ((13.16, 44.93), (13.86, 44.98), PURPLE)]),
]


def build_frame(curves):
    rows = []
    for k, (model, pts) in enumerate(curves):
        for x, ly in pts:
            rows.append((model, k, x, 10 ** ly))
    return pd.DataFrame(rows, columns=['model', 'curve', 'lognu', 'nuFnu'])


fig = plt.figure(figsize=(12, 17.43), dpi=100)
bottoms = [0.7526, 0.5121, 0.2717, 0.0306]

for i, panel in enumerate(panels):
    ax = fig.add_axes([0.0722, bottoms[i], 0.9168, 0.2187])
    pal = dict(zip(panel['order'], [CYAN, PURPLE, NAVY]))
    df = build_frame(panel['curves'])
    sns.lineplot(data=df, x='lognu', y='nuFnu', hue='model', hue_order=panel['order'],
                 units='curve', estimator=None, sort=False, palette=pal,
                 linewidth=1.7, legend=False, ax=ax)
    ax.set_yscale('log')
    ax.set_xlim(*XLIM)
    ax.set_ylim(10 ** YLIM[0], 10 ** YLIM[1])

    # spectral region strip
    for j, name in enumerate(band_names):
        ax.axvspan(band_edges[j], band_edges[j + 1], ymin=0.962, ymax=1.0,
                   color=band_colors[j], lw=0, zorder=0)
        ax.text(band_label_x[j], 0.937, name, transform=ax.get_xaxis_transform(),
                ha='center', va='center', fontsize=10)

    for x, ly, s, rot, c in panel['texts']:
        ax.text(x, 10 ** ly, s, rotation=rot, rotation_mode='anchor', ha='center',
                va='center', color=c, fontsize=10)
    for (tx, ty), (hx, hy), c in panel['arrows']:
        ax.annotate('', xy=(hx, 10 ** hy), xytext=(tx, 10 ** ty),
                    arrowprops=dict(arrowstyle='-|>', color=c, lw=1.6,
                                    mutation_scale=13, shrinkA=0, shrinkB=0))

    handles = [Line2D([], [], color=pal[m], lw=2) for m in panel['order']]
    ax.legend(handles, panel['order'], loc='center left', fontsize=11, fancybox=True,
              shadow=True, framealpha=1, edgecolor='0.8')

    ax.xaxis.set_major_locator(MultipleLocator(1))
    ax.xaxis.set_minor_locator(MultipleLocator(0.2))
    ax.tick_params(which='both', direction='in', top=False, right=False, labelsize=14)
    ax.tick_params(which='major', length=6)
    ax.tick_params(which='minor', length=3)
    ax.set_ylabel(r'$\nu F_{\nu}$ [erg $s^{-1}$]', fontsize=15)
    if i < 3:
        ax.set_xticklabels([])
        ax.set_xlabel('')
    else:
        ax.set_xlabel(r'rest-frame $\log\nu$ [Hz]', fontsize=15)

    # wavelength axis on top
    top = ax.twiny()
    top.set_xscale('log')
    top.set_xlim(10 ** (LOGC - XLIM[0]), 10 ** (LOGC - XLIM[1]))
    top.xaxis.set_major_locator(FixedLocator([1e4, 1e2, 1e0, 1e-2, 1e-4]))
    top.xaxis.set_minor_locator(LogLocator(base=10, subs=np.arange(1, 10), numticks=100))
    top.xaxis.set_minor_formatter(NullFormatter())
    top.tick_params(which='both', direction='in', labelsize=14)
    top.tick_params(which='major', length=6)
    top.tick_params(which='minor', length=3)
    if i == 0:
        top.xaxis.set_major_formatter(FixedFormatter([r'$10^{4}$', r'$10^{2}$', r'$10^{0}$',
                                                      r'$10^{-2}$', r'$10^{-4}$']))
        top.set_xlabel(r'rest-frame $\lambda$ [$\mu m$]', fontsize=15)
    else:
        top.xaxis.set_major_formatter(NullFormatter())

fig.savefig('out.png', dpi=100)
